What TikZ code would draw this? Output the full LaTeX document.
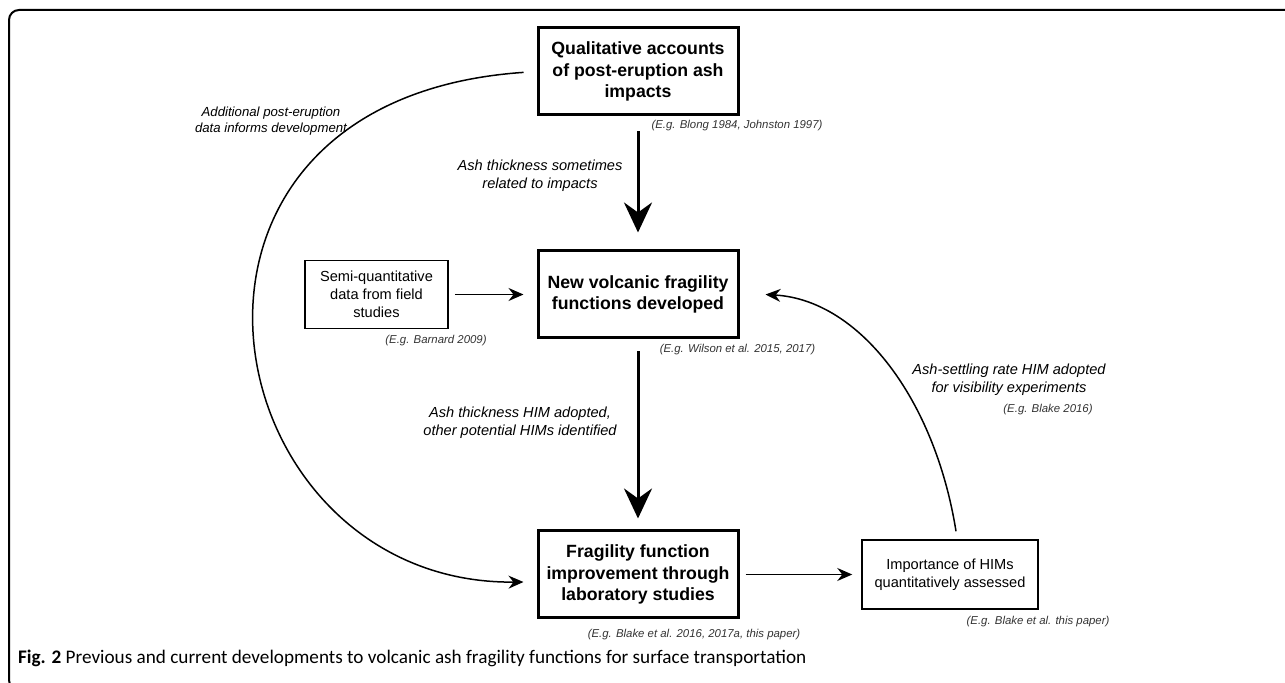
\documentclass[tikz,border=0pt]{standalone}
\usepackage{fontspec}
\setmainfont{Liberation Sans}
\newfontfamily\capfont{Carlito}
\usetikzlibrary{arrows.meta}
\usetikzlibrary{calc}

\begin{document}
\begin{tikzpicture}[x=0.5pt,y=-0.5pt,
    mainbox/.style={draw,line width=1.5pt,minimum width=100pt,minimum height=43.5pt,align=center,inner sep=0pt,font=\fontsize{8.85}{10.6}\selectfont\bfseries},
    sidebox/.style={draw,line width=0.75pt,align=center,inner sep=0pt,font=\fontsize{7.3}{8.9}\selectfont},
    note/.style={align=center,font=\fontsize{7.3}{9}\selectfont\itshape},
    cite/.style={text=black!80,font=\fontsize{5.7}{7}\selectfont\itshape},
    bigarrow/.style={-{Stealth[length=15pt,width=14pt,inset=5pt]},line width=1.5pt},
    smallarrow/.style={-{Stealth[length=7.5pt,width=6.5pt,inset=2.5pt]},line width=0.75pt}]
            \useasboundingbox (0,0) rectangle (1285,683);
            \draw[line width=1pt,rounded corners=5pt] (1290,10) -- (9,10) -- (9,690) -- (30,690);
            \node[mainbox] (qual) at (638,71.5) {Qualitative accounts\\of post-eruption ash\\impacts};
            \node[mainbox] (newff) at (638,294.5) {New volcanic fragility\\functions developed};
            \node[mainbox] (labst) at (638,574.5) {Fragility function\\improvement through\\laboratory studies};
            \node[sidebox,minimum width=71.5pt,minimum height=34pt] (semi) at (376.5,294.5) {Semi-quantitative\\data from field\\studies};
            \node[sidebox,minimum width=88pt,minimum height=34.5pt] (imp) at (950,574.5) {Importance of HIMs\\quantitatively assessed};
            \node[cite] (qualref) at (737,126) {(E.g. Blong 1984, Johnston 1997)};
            \node[cite] (semiref) at (436,341) {(E.g. Barnard 2009)};
            \node[cite] (newffref) at (737.5,350) {(E.g. Wilson et al. 2015, 2017)};
            \node[cite] (labstref) at (694,635) {(E.g. Blake et al. 2016, 2017a, this paper)};
            \node[cite] (impref) at (1038,622) {(E.g. Blake et al. this paper)};
            \node[cite] (settleref) at (1048,410) {(E.g. Blake 2016)};
            \node[note] (thick1) at (540,176) {Ash thickness sometimes\\related to impacts};
            \node[note] (thick2) at (520,423) {Ash thickness HIM adopted,\\other potential HIMs identified};
            \node[note,font=\fontsize{6.6}{8.2}\selectfont\itshape] (extra) at (271,121) {Additional post-eruption\\data informs development};
            \node[note] (settle) at (1009,380) {Ash-settling rate HIM adopted\\for visibility experiments};
            \draw[bigarrow,shorten <=7.5pt,shorten >=8.5pt] (qual) -- (newff);
            \draw[bigarrow,shorten <=6pt,shorten >=5.5pt] (newff) -- (labst);
            \draw[smallarrow,shorten <=3pt,shorten >=6.5pt] (semi) -- (newff);
            \draw[smallarrow,shorten <=3pt,shorten >=4.5pt] (labst) -- (imp);
            % curved feedback paths
            \draw[smallarrow,shorten <=6.5pt] (qual.west) .. controls (120,100) and (210,585) .. ($(labst.west)+(-13,7.5)$);
            \draw[smallarrow] ($(imp.north)+(6,-8)$) .. controls (935,400) and (860,300) .. ($(newff.east)+(26,0)$);
            \node[anchor=west,font=\capfont\fontsize{9.6}{11}\selectfont] (caption) at (11,658) {\textbf{Fig. 2} Previous and current developments to volcanic ash fragility functions for surface transportation};
        \end{tikzpicture}
\end{document}
